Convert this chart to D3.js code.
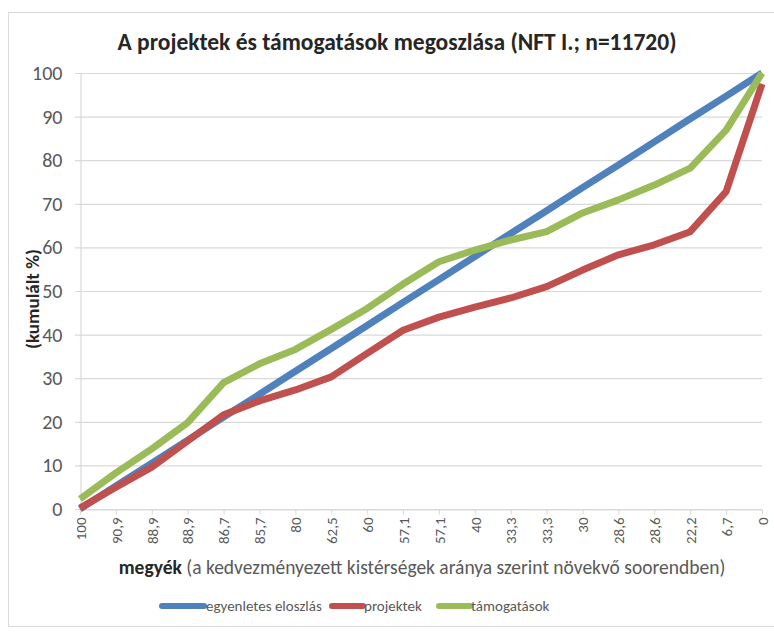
<!DOCTYPE html>
<html><head><meta charset="utf-8">
<script src="https://cdn.jsdelivr.net/npm/d3@7/dist/d3.min.js"></script>
<style>body{margin:0;background:#fff}svg{display:block}</style>
</head><body>
<svg id="c" width="774" height="632"></svg>
<script>
const categories = ["100","90,9","88,9","88,9","86,7","85,7","80","62,5","60","57,1","57,1","40","33,3","33,3","30","28,6","28,6","22,2","6,7","0"];
const egyenletes = [0,5.3,10.5,15.8,21.1,26.3,31.6,36.8,42.1,47.4,52.6,57.9,63.2,68.4,73.7,78.9,84.2,89.5,94.7,100];
const projektek = [0.2,5,9.6,15.6,21.6,24.8,27.3,30.3,35.7,41,44,46.3,48.4,51,54.8,58.3,60.6,63.6,72.8,97.5];
const tamogatasok = [2.3,8.3,13.8,19.8,29,33.3,36.6,41.2,46,51.6,56.7,59.4,61.7,63.6,67.9,70.9,74.3,78.2,86.9,100];
const yTicks = [0,10,20,30,40,50,60,70,80,90,100];
const seriesNames = ["egyenletes eloszlás","projektek","támogatások"];
const colors = ["#4F81BD","#C0504D","#9BBB59"];

const svg = d3.select("#c");
const font = "Calibri, Carlito, 'Open Sans', sans-serif";
svg.append("rect").attr("x",8.5).attr("y",12.5).attr("width",770).attr("height",614)
  .attr("fill","#fff").attr("stroke","#d9d9d9");

const x = d3.scalePoint().domain(d3.range(categories.length)).range([80,762]);
const y = d3.scaleLinear().domain([0,100]).range([509,73]);

// grid
svg.append("g").selectAll("line").data(yTicks).join("line")
  .attr("x1",75).attr("x2",762).attr("y1",d=>y(d)+0.5).attr("y2",d=>y(d)+0.5)
  .attr("stroke","#d9d9d9").attr("stroke-width",1.2);

// y axis
const ya = svg.append("g").attr("transform","translate(80.5,0)")
  .call(d3.axisLeft(y).tickValues(yTicks).tickSize(0).tickPadding(18));
ya.select(".domain").attr("stroke","#d9d9d9").attr("stroke-width",1.2);
ya.selectAll("text").attr("font-family",font).attr("font-size",20).attr("fill","#595959");

// x axis
const xa = svg.append("g").attr("transform","translate(0,509.5)")
  .call(d3.axisBottom(x).tickSize(5).tickSizeOuter(0).tickFormat(i=>categories[i]));
xa.select(".domain").attr("stroke","#d9d9d9").attr("stroke-width",1.2);
xa.selectAll(".tick line").attr("stroke","#d9d9d9");
xa.selectAll("text").attr("font-family",font).attr("font-size",15).attr("fill","#595959")
  .attr("transform","rotate(-90)").attr("text-anchor","end").attr("dy","0.35em")
  .attr("x",-8).attr("y",0);

// lines
const all = [egyenletes, projektek, tamogatasok];
const line = d3.line().x((d,i)=>x(i)).y(d=>y(d));
all.forEach((s,k)=>{
  svg.append("path").datum(s).attr("d",line).attr("fill","none")
    .attr("stroke",colors[k]).attr("stroke-width",7).attr("stroke-linejoin","round");
});

// title
svg.append("text").attr("x",397).attr("y",50).attr("text-anchor","middle")
  .attr("font-family",font).attr("font-size",23.5).attr("font-weight",700).attr("fill","#262626")
  .text("A projektek és támogatások megoszlása (NFT I.; n=11720)");

// y title
svg.append("text").attr("transform","translate(32,299) rotate(-90)").attr("text-anchor","middle")
  .attr("font-family",font).attr("font-size",19).attr("font-weight",700).attr("fill","#262626")
  .attr("dy","0.35em").text("(kumulált %)");

// x title
const xt = svg.append("text").attr("x",422).attr("y",574).attr("text-anchor","middle")
  .attr("font-family",font).attr("font-size",19.5).attr("fill","#262626");
xt.append("tspan").attr("font-weight",700).text("megyék");
xt.append("tspan").attr("fill","#595959").text(" (a kedvezményezett kistérségek aránya szerint növekvő soorendben)");

// legend
const legX = [160,330,437];
const lg = svg.append("g");
seriesNames.forEach((n,k)=>{
  lg.append("line").attr("x1",legX[k]+2).attr("x2",legX[k]+(k==0?44:33)).attr("y1",606).attr("y2",606)
    .attr("stroke",colors[k]).attr("stroke-width",6).attr("stroke-linecap","round");
  lg.append("text").attr("x",legX[k]+(k==0?46:34)).attr("y",606).attr("dy","0.35em")
    .attr("font-family",font).attr("font-size",15).attr("fill","#595959").text(n);
});
</script>
</body></html>
